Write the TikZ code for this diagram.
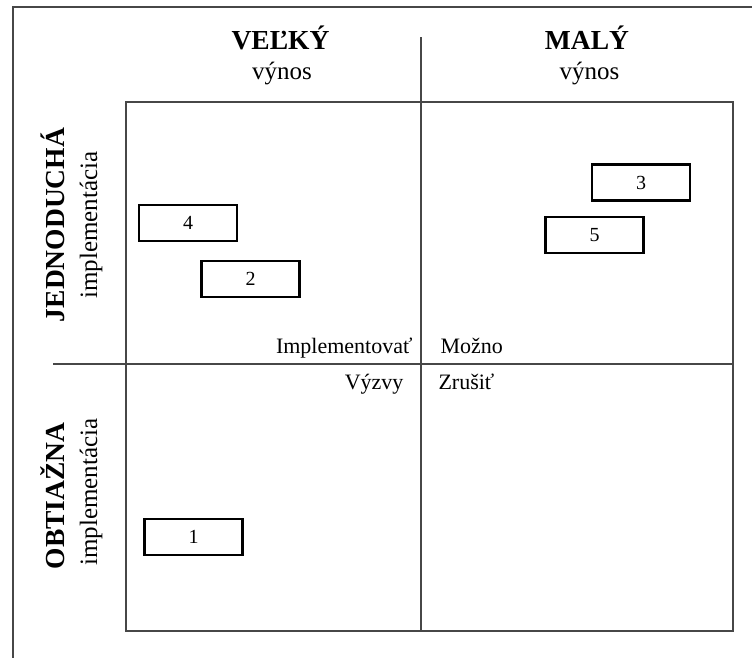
\documentclass[tikz,border=0pt]{standalone}
\usepackage{fontspec}
\setmainfont{Liberation Serif}
\definecolor{gridgray}{HTML}{474747}
\begin{document}
\begin{tikzpicture}[x=1pt,y=-1pt,
  frame/.style={draw=gridgray,line width=2pt},
  gridline/.style={draw=gridgray,line width=2pt},
  item/.style={draw=black,line width=2.4pt,minimum width=98pt,minimum height=36pt,inner sep=0pt,font=\fontsize{20}{23}\selectfont},
  head/.style={font=\fontsize{27.5}{30}\bfseries\selectfont,anchor=base},
  sub/.style={font=\fontsize{25}{28}\selectfont,anchor=base},
  quad/.style={font=\fontsize{22}{25}\selectfont}]
\useasboundingbox (0,0) rectangle (752,657);
% outer frame (open towards the right and bottom edge)
\coordinate (fbl) at (13,660);
\coordinate (ftl) at (13,7);
\coordinate (ftr) at (755,7);
\draw[frame] (fbl) -- (ftl) -- (ftr);
% matrix frame and dividers
\coordinate (mtl) at (126,101.5);
\coordinate (mbr) at (733,631);
\coordinate (vtop) at (421,37);
\coordinate (vbot) at (421,631);
\coordinate (hl) at (53,363.5);
\coordinate (hr) at (733,363.5);
\draw[gridline] (mtl) rectangle (mbr);
\draw[gridline] (vtop) -- (vbot);
\draw[gridline] (hl) -- (hr);
% column headings
\node[head] (big) at (280.5,49) {VEĽKÝ};
\node[sub] (bigsub) at (282,79) {výnos};
\node[head] (small) at (587,49) {MALÝ};
\node[sub] (smallsub) at (589.5,79) {výnos};
% row headings
\node[head,rotate=90] (easy) at (64,225) {JEDNODUCHÁ};
\node[sub,rotate=90] (easysub) at (97,225) {implementácia};
\node[head,rotate=90] (hard) at (64,496) {OBTIAŽNA};
\node[sub,rotate=90] (hardsub) at (97,492) {implementácia};
% quadrant labels
\node[quad,anchor=base east] (q1) at (416,353.5) {Implementovať};
\node[quad,anchor=base west] (q2) at (437,353.5) {Možno};
\node[quad,anchor=base east] (q3) at (407,389.5) {Výzvy};
\node[quad,anchor=base west] (q4) at (435,389.5) {Zrušiť};
% items
\node[item] (n4) at (188,223) {4};
\node[item] (n2) at (250.5,279) {2};
\node[item] (n3) at (641,182.5) {3};
\node[item] (n5) at (594.5,235) {5};
\node[item] (n1) at (193.5,537) {1};
\end{tikzpicture}
\end{document}
